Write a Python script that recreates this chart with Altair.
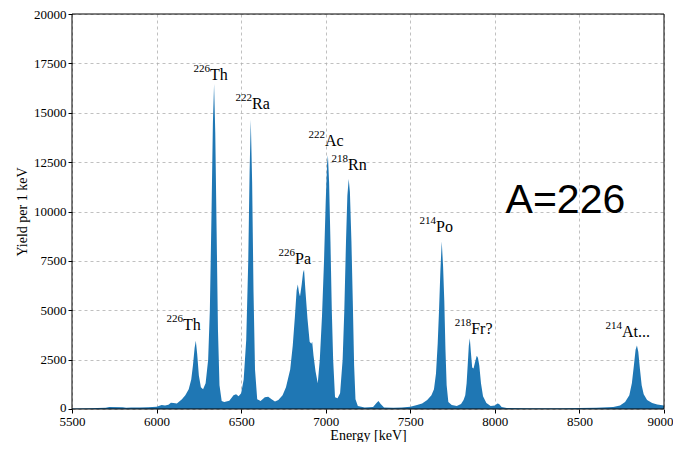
import altair as alt
import pandas as pd

# Spectrum (energy in keV, yield per 1 keV)
energy = [5500, 5600, 5700, 5720, 5800, 5820, 5850, 5900, 5950, 6000, 6030, 6050, 6070, 6085, 6100,
          6120, 6150, 6170, 6190, 6205, 6215, 6225, 6232, 6240, 6250, 6262, 6275, 6290, 6305, 6315,
          6325, 6333, 6340, 6347, 6355, 6363, 6372, 6385, 6400, 6430, 6455, 6470, 6485, 6500, 6515,
          6530, 6542, 6550, 6557, 6565, 6573, 6582, 6595, 6615, 6640, 6660, 6680, 6700, 6720, 6745,
          6765, 6790, 6805, 6818, 6828, 6835, 6842, 6848, 6858, 6866, 6872, 6880, 6892, 6905, 6915,
          6920, 6928, 6940, 6953, 6965, 6978, 6990, 7000, 7008, 7013, 7020, 7028, 7036, 7044, 7055,
          7070, 7085, 7100, 7110, 7120, 7128, 7136, 7143, 7152, 7160, 7168, 7176, 7190, 7230, 7280,
          7300, 7312, 7325, 7345, 7400, 7450, 7500, 7540, 7570, 7600, 7625, 7640, 7652, 7662, 7670,
          7678, 7686, 7694, 7701, 7708, 7715, 7725, 7745, 7775, 7800, 7815, 7825, 7833, 7840, 7846,
          7852, 7858, 7866, 7874, 7884, 7893, 7900, 7908, 7918, 7930, 7950, 7975, 8000, 8015, 8025,
          8040, 8070, 8200, 8400, 8600, 8700, 8740, 8770, 8795, 8810, 8822, 8832, 8840, 8848, 8858,
          8868, 8880, 8900, 8930, 8960, 9000]
yield_ = [30, 40, 60, 100, 90, 60, 80, 70, 90, 120, 200, 180, 220, 320, 300,
          280, 500, 700, 1000, 1500, 2200, 3100, 3450, 2800, 1700, 1100, 1000, 1300, 2500, 5000,
          10000, 14500, 16450, 14000, 9000, 4000, 1200, 400, 350, 420, 700, 750, 650, 800, 1500,
          3500, 7500, 12000, 14650, 11500, 6000, 2000, 500, 400, 600, 620, 500, 380, 450, 700,
          1100, 2000, 3200, 4700, 6000, 6300, 5900, 5700, 6300, 6900, 7050, 6000, 4600, 3400, 3300,
          3400, 2700, 1900, 1300, 2500, 4700, 7500, 10500, 12400, 12850, 11500, 8500, 5000, 2500, 600,
          550, 800, 2500, 5000, 8500, 10800, 11650, 11000, 8500, 5500, 2200, 500, 150, 80, 100,
          300, 400, 250, 80, 60, 80, 120, 200, 280, 450, 700, 1000, 1800, 3300, 5000,
          7000, 8480, 7200, 5500, 3000, 1200, 350, 200, 150, 250, 450, 700, 1300, 2300, 3200,
          3580, 2900, 2100, 2050, 2400, 2700, 2600, 2200, 1300, 650, 300, 150, 180, 280, 250,
          100, 50, 40, 40, 60, 100, 180, 350, 700, 1300, 2200, 3000, 3220, 2900, 2000,
          1200, 750, 450, 300, 230, 180]

# Peak labels
lab_mass = ["226", "226", "222", "226", "222", "218", "214", "218", "214"]
lab_elem = ["Th", "Th", "Ra", "Pa", "Ac", "Rn", "Po", "Fr?", "At..."]
lab_x = [6156, 6316, 6564, 6819, 6996, 7132, 7652, 7860, 8752]
lab_y = [3980, 16675, 15210, 7355, 13300, 12090, 8970, 3780, 3630]

x_ticks = [5500, 6000, 6500, 7000, 7500, 8000, 8500, 9000]
y_ticks = [0, 2500, 5000, 7500, 10000, 12500, 15000, 17500, 20000]

spec = pd.DataFrame({"E": energy, "Y": yield_})
labels = pd.DataFrame({"mass": lab_mass, "elem": lab_elem, "x": lab_x, "y": lab_y})
big = pd.DataFrame({"t": ["A=226"], "x": [8417], "y": [10530]})
frame_df = pd.DataFrame({"k": [0]})

SERIF = "Liberation Serif"
W, H = 592, 395

xs = alt.Scale(domain=[5500, 9000], nice=False, zero=False)
ys = alt.Scale(domain=[0, 20000], nice=False)

area = alt.Chart(spec).mark_area(color="#1f77b4", clip=True, interpolate="linear").encode(
    x=alt.X("E:Q", scale=xs,
            axis=alt.Axis(title="Energy [keV]", values=x_ticks, format="d",
                          labelAlign={"condition": {"test": "datum.value == 9000", "value": "right"},
                                      "value": "center"},
                          labelOffset={"condition": {"test": "datum.value == 9000", "value": 9},
                                       "value": 0})),
    y=alt.Y("Y:Q", scale=ys,
            axis=alt.Axis(title="Yield per 1 keV", values=y_ticks, format="d",
                          labelOffset={"condition": {"test": "datum.value == 0", "value": -2},
                                       "value": 0})),
)

elem_text = alt.Chart(labels).mark_text(
    font=SERIF, fontSize=16, align="left", baseline="alphabetic", color="black"
).encode(x=alt.X("x:Q", scale=xs), y=alt.Y("y:Q", scale=ys), text="elem:N")

mass_text = alt.Chart(labels).mark_text(
    font=SERIF, fontSize=11, align="right", baseline="alphabetic", dy=-8, color="black"
).encode(x=alt.X("x:Q", scale=xs), y=alt.Y("y:Q", scale=ys), text="mass:N")

big_text = alt.Chart(big).mark_text(
    font="Liberation Sans", fontSize=41, align="center", baseline="middle", color="black"
).encode(x=alt.X("x:Q", scale=xs), y=alt.Y("y:Q", scale=ys), text="t:N")

frame = alt.Chart(frame_df).mark_rect(filled=False, stroke="black", strokeWidth=1).encode(
    x=alt.value(0), x2=alt.value(W), y=alt.value(0), y2=alt.value(H)
)

chart = alt.layer(area, elem_text, mass_text, big_text, frame).properties(
    width=W, height=H,
    autosize=alt.AutoSizeParams(type="none"),
    padding={"left": 64, "top": 6, "right": 9, "bottom": 33},
).configure_view(
    stroke=None
).configure_axis(
    grid=True, gridDash=[3, 3], gridColor="#b0b0b0", gridWidth=0.8,
    domain=False, tickColor="black", tickSize=4, tickWidth=1,
    labelFont=SERIF, labelFontSize=13, labelColor="black",
    titleFont=SERIF, titleFontSize=14, titleFontWeight="normal", titleColor="black",
    labelPadding=2,
).configure_axisY(titlePadding=4).configure_axisX(titlePadding=0, labelPadding=2)

chart.save("out.html", embed_options={"renderer": "svg", "actions": False})
